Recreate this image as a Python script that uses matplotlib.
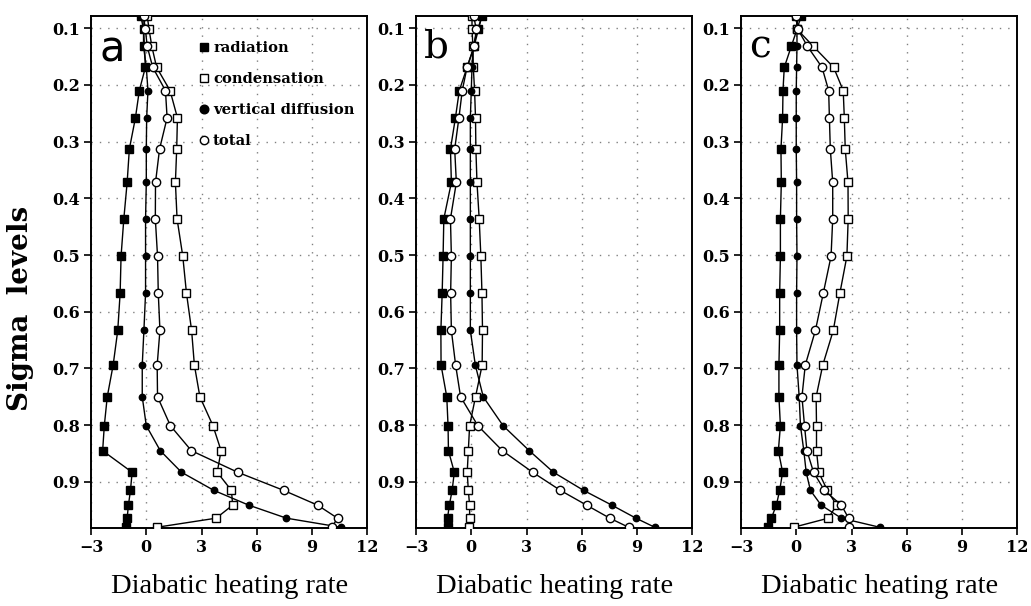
import matplotlib
matplotlib.use("Agg")
import matplotlib.pyplot as plt
from matplotlib.lines import Line2D

# sigma levels (top to bottom)
sigma = [0.078, 0.102, 0.132, 0.169, 0.210, 0.258, 0.313, 0.372, 0.436, 0.502, 0.567,
         0.633, 0.694, 0.750, 0.801, 0.845, 0.883, 0.915, 0.941, 0.964, 0.980]

# panel a
rad_a = [-0.30, -0.15, -0.10, -0.05, -0.38, -0.59, -0.92, -1.04, -1.22, -1.37, -1.42,
         -1.55, -1.80, -2.12, -2.28, -2.37, -0.77, -0.86, -0.97, -1.04, -1.08]
cond_a = [0.05, 0.15, 0.30, 0.56, 1.29, 1.69, 1.65, 1.58, 1.67, 1.98, 2.18,
          2.46, 2.61, 2.91, 3.62, 4.06, 3.85, 4.62, 4.69, 3.79, 0.58]
vd_a = [-0.20, -0.15, -0.15, 0.00, 0.09, 0.02, 0.00, 0.00, -0.04, -0.04, -0.04,
        -0.13, -0.22, -0.22, 0.00, 0.76, 1.91, 3.67, 5.56, 7.61, 10.56]
tot_a = [-0.15, -0.05, 0.05, 0.35, 1.04, 1.13, 0.72, 0.50, 0.49, 0.61, 0.65,
         0.74, 0.59, 0.61, 1.31, 2.45, 4.96, 7.46, 9.30, 10.38, 10.07]

# panel b
rad_b = [0.58, 0.39, 0.15, -0.23, -0.65, -0.86, -1.13, -1.08, -1.49, -1.53, -1.58,
         -1.65, -1.64, -1.33, -1.26, -1.24, -0.92, -1.04, -1.19, -1.29, -1.26]
cond_b = [0.04, 0.04, 0.09, 0.11, 0.18, 0.23, 0.25, 0.31, 0.43, 0.52, 0.58,
          0.61, 0.59, 0.23, -0.09, -0.16, -0.22, -0.16, -0.09, -0.09, -0.14]
vd_b = [0.60, 0.34, 0.10, 0.04, 0.00, -0.05, -0.05, -0.05, -0.05, -0.05, -0.05,
        -0.05, 0.22, 0.65, 1.73, 3.15, 4.46, 6.10, 7.63, 8.94, 9.96]
tot_b = [0.13, 0.27, 0.16, -0.23, -0.49, -0.67, -0.90, -0.81, -1.13, -1.08, -1.12,
         -1.08, -0.85, -0.58, 0.36, 1.69, 3.33, 4.84, 6.26, 7.52, 8.54]

# panel c
rad_c = [0.27, 0.04, -0.27, -0.65, -0.72, -0.74, -0.83, -0.81, -0.86, -0.86, -0.90,
         -0.90, -0.94, -0.94, -0.86, -0.97, -0.74, -0.90, -1.08, -1.35, -1.53]
cond_c = [0.00, 0.05, 0.93, 2.03, 2.55, 2.61, 2.66, 2.81, 2.82, 2.75, 2.37,
          2.01, 1.44, 1.08, 1.10, 1.10, 1.22, 1.69, 2.19, 1.74, -0.14]
vd_c = [0.09, 0.04, 0.04, 0.02, 0.00, 0.00, 0.00, 0.02, 0.02, 0.04, 0.02,
        0.02, 0.04, 0.16, 0.23, 0.41, 0.54, 0.77, 1.35, 2.45, 4.53]
tot_c = [-0.04, 0.09, 0.61, 1.40, 1.76, 1.80, 1.85, 1.98, 1.98, 1.89, 1.47,
         1.04, 0.49, 0.31, 0.45, 0.58, 0.94, 1.53, 2.45, 2.84, 2.84]

panels = [("a", rad_a, cond_a, vd_a, tot_a),
          ("b", rad_b, cond_b, vd_b, tot_b),
          ("c", rad_c, cond_c, vd_c, tot_c)]

xticks = [-3, 0, 3, 6, 9, 12]
yticks = [0.1, 0.2, 0.3, 0.4, 0.5, 0.6, 0.7, 0.8, 0.9]
names = ["radiation", "condensation", "vertical diffusion", "total"]

tickfont = {"family": "DejaVu Serif", "weight": "bold", "size": 11.5}

# marker styles: filled square, open square, filled circle, open circle
styles = [dict(marker="s", ms=5.8, mfc="black", mec="black"),
          dict(marker="s", ms=6.2, mfc="white", mec="black", mew=1.0),
          dict(marker="o", ms=4.6, mfc="black", mec="black"),
          dict(marker="o", ms=6.0, mfc="white", mec="black", mew=1.0)]

fig = plt.figure(figsize=(10.31, 6.06), dpi=100)
lefts = [0.0883, 0.4035, 0.7187]
w = 0.268

for i, (letter, rad, cond, vd, tot) in enumerate(panels):
    ax = fig.add_axes([lefts[i], 0.129, w, 0.845])
    for vals, st in zip([rad, cond, vd, tot], styles):
        ax.plot(vals, sigma, color="black", lw=1.0, zorder=3, **st)

    ax.set_xlim(-3, 12)
    ax.set_ylim(0.981, 0.078)
    ax.set_xticks(xticks)
    ax.set_yticks(yticks)
    ax.set_xticklabels([str(t).replace("-", "\u2212") for t in xticks], fontdict=tickfont)
    ax.set_yticklabels(["%.1f" % t for t in yticks], fontdict=tickfont)
    ax.tick_params(direction="out", length=5, width=1.2, pad=3)
    ax.grid(True, color="gray", ls=(0, (1, 5)), lw=1.0)
    for s in ax.spines.values():
        s.set_linewidth(1.4)

    ax.set_xlabel("Diabatic heating rate", family="Liberation Serif", fontsize=20.5, labelpad=13)

    if letter == "a":
        ax.text(0.03, 0.975, letter, transform=ax.transAxes, family="DejaVu Sans",
                fontsize=30, va="top", ha="left")
        handles = [Line2D([], [], ls="none", **st) for st in styles]
        handles[2] = Line2D([], [], ls="none", marker="o", ms=6.2, mfc="black", mec="black")
        ax.legend(handles, names, loc="upper left", bbox_to_anchor=(0.375, 0.962), frameon=False,
                  handlelength=0.5, handletextpad=0.35, labelspacing=1.15, borderaxespad=0,
                  prop={"family": "DejaVu Serif", "weight": "bold", "size": 10.6})
    else:
        ax.text(0.03, 0.975, letter, transform=ax.transAxes, family="DejaVu Serif",
                fontsize=28, va="top", ha="left")

fig.text(21 / 1031, 1 - 308 / 606, "Sigma  levels", family="DejaVu Serif", weight="bold",
         fontsize=20, rotation=90, ha="center", va="center")

fig.savefig("out.png", dpi=100)
